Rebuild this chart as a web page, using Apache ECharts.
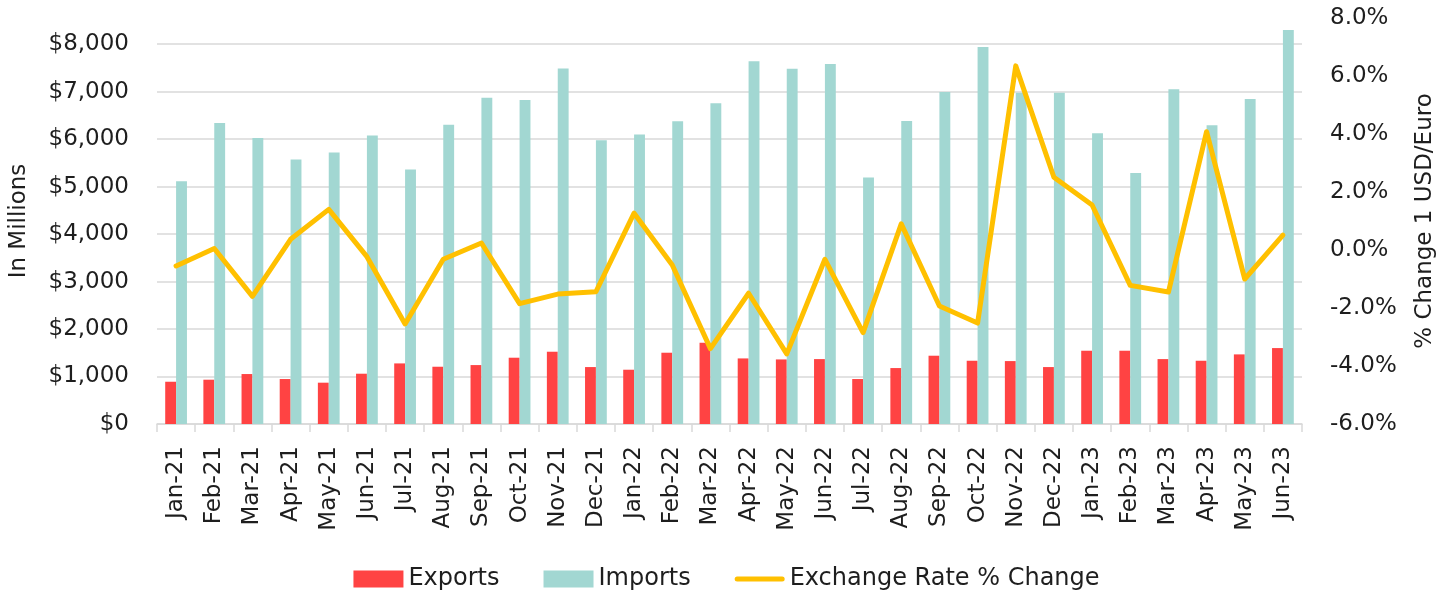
<!DOCTYPE html>
<html>
<head>
<meta charset="utf-8">
<script src="https://cdn.jsdelivr.net/npm/echarts@6/dist/echarts.min.js"></script>
<style>html,body{margin:0;padding:0;background:#fff}#c{width:1453px;height:592px}</style>
</head>
<body>
<div id="c"></div>
<script>
const categories = ['Jan-21','Feb-21','Mar-21','Apr-21','May-21','Jun-21','Jul-21','Aug-21','Sep-21','Oct-21','Nov-21','Dec-21',
  'Jan-22','Feb-22','Mar-22','Apr-22','May-22','Jun-22','Jul-22','Aug-22','Sep-22','Oct-22','Nov-22','Dec-22',
  'Jan-23','Feb-23','Mar-23','Apr-23','May-23','Jun-23'];
const exportsData = [890,933,1052,947,870,1059,1276,1206,1241,1396,1522,1199,
  1143,1501,1711,1381,1360,1367,947,1178,1438,1332,1325,1199,
  1543,1543,1367,1332,1466,1599];
const importsData = [5112,6340,6024,5568,5715,6073,5358,6304,6872,6823,7489,5975,
  6094,6374,6753,7637,7482,7581,5189,6381,6992,7938,6978,6978,
  6122,5288,7048,6290,6844,8296];
const rateData = [-0.55,0.05,-1.6,0.37,1.4,-0.23,-2.55,-0.32,0.24,-1.85,-1.52,-1.44,
  1.27,-0.52,-3.4,-1.49,-3.58,-0.32,-2.85,0.9,-1.93,-2.52,6.35,2.51,
  1.55,-1.22,-1.45,4.08,-1.0,0.51];
const leftTicks = {min:0, max:8550, interval:1000};
const rightTicks = {min:-6, max:8, interval:2};

const FONT = 'DejaVu Sans';
const TXT = '#1e1e1e';
const lineIcon = 'path://M2.5,0 H47.5 A2.5,2.5 0 0 1 47.5,5 H2.5 A2.5,2.5 0 0 1 2.5,0 Z';
const chart = echarts.init(document.getElementById('c'), null, {renderer:'canvas'});
chart.setOption({
  animation:false,
  textStyle:{fontFamily:FONT},
  grid:{left:156, right:151, top:18, bottom:168},
  legend:{
    top:562, left:'center', itemWidth:50, itemHeight:17, itemGap:44,
    textStyle:{fontFamily:FONT, fontSize:24, color:TXT},
    data:[
      {name:'Exports', icon:'rect'},
      {name:'Imports', icon:'rect'},
      {name:'Exchange Rate % Change', icon:lineIcon, itemStyle:{color:'#FFC000'}}
    ]
  },
  xAxis:{
    type:'category', data:categories, boundaryGap:true,
    axisLine:{lineStyle:{color:'#d9d9d9', width:1.5}},
    axisTick:{show:true, length:8, alignWithLabel:false, lineStyle:{color:'#d9d9d9', width:1.5}},
    axisLabel:{rotate:90, interval:0, margin:22, fontSize:23, color:TXT, fontFamily:FONT}
  },
  yAxis:[{
    type:'value', min:leftTicks.min, max:leftTicks.max, interval:leftTicks.interval,
    name:'In Millions', nameLocation:'middle', nameGap:126, nameRotate:90,
    nameTextStyle:{fontSize:23, color:TXT, fontFamily:FONT},
    axisLine:{show:false}, axisTick:{show:false},
    axisLabel:{margin:28, fontSize:23, color:TXT, fontFamily:FONT, showMaxLabel:false,
      formatter:v => '$' + v.toLocaleString('en-US')},
    splitLine:{show:true, showMaxLine:false, lineStyle:{color:'#d9d9d9', width:1.5}}
  },{
    type:'value', min:rightTicks.min, max:rightTicks.max, interval:rightTicks.interval,
    name:'% Change 1 USD/Euro', nameLocation:'middle', nameGap:112, nameRotate:90,
    nameTextStyle:{fontSize:23, color:TXT, fontFamily:FONT},
    axisLine:{show:false}, axisTick:{show:false},
    axisLabel:{margin:28, fontSize:23, color:TXT, fontFamily:FONT,
      formatter:v => v.toFixed(1) + '%'},
    splitLine:{show:false}
  }],
  series:[{
    name:'Exports', type:'bar', data:exportsData, yAxisIndex:0,
    barGap:'0%', barCategoryGap:'43%', itemStyle:{color:'#FF4343'}
  },{
    name:'Imports', type:'bar', data:importsData, yAxisIndex:0,
    barGap:'0%', barCategoryGap:'43%', itemStyle:{color:'#A2D7D2'}
  },{
    name:'Exchange Rate % Change', type:'line', data:rateData, yAxisIndex:1,
    symbol:'none', lineStyle:{color:'#FFC000', width:5, join:'round', cap:'round'},
    itemStyle:{color:'#FFC000'}
  }]
});
</script>
</body>
</html>
